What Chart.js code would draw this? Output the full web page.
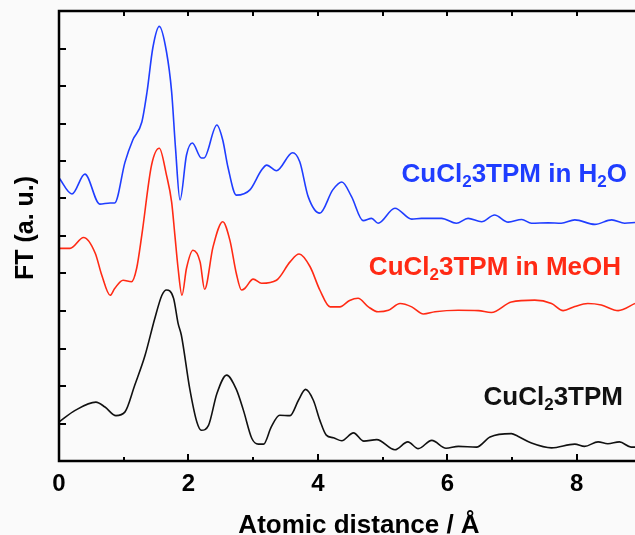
<!DOCTYPE html>
<html lang="en">
<head>
  <meta charset="UTF-8" />
  <title>FT CuCl2 3TPM</title>
  <script src="https://cdn.jsdelivr.net/npm/chart.js"></script>
  <style>
    html, body { margin: 0; padding: 0; background: #fafafa; overflow: hidden; }
    #wrap { width: 635px; height: 535px; }
  </style>
</head>
<body>
  <div id="wrap"><canvas id="grafico" width="635" height="535"></canvas></div>

  <script>
    // distancia (Å) e intensidade (u.a.) de cada curva
    const h2oR = [0, 0.20, 0.40, 0.63, 0.79, 0.86, 1.02, 1.14, 1.28, 1.36, 1.45, 1.55, 1.66, 1.74, 1.80, 1.87,
      1.97, 2.06, 2.20, 2.24, 2.44, 2.53, 2.61, 2.74, 2.95, 3.13, 3.21, 3.36, 3.61, 3.72, 3.85, 4.03,
      4.23, 4.37, 4.52, 4.70, 4.83, 4.93, 5.19, 5.45, 5.60, 5.91, 6.14, 6.32, 6.53, 6.73, 6.94, 7.15,
      7.30, 7.56, 7.76, 7.97, 8.28, 8.54, 8.74, 8.90];
    const h2oFT = [7.55, 7.12, 7.65, 6.85, 6.88, 6.88, 7.97, 8.56, 9.04, 9.84, 11.02, 11.59, 10.92, 9.85, 8.35, 6.96,
      8.16, 8.48, 8.08, 8.08, 8.96, 8.56, 7.84, 7.09, 7.23, 7.76, 7.89, 7.74, 8.22, 7.98, 7.05, 6.61,
      7.23, 7.44, 7.05, 6.41, 6.47, 6.34, 6.74, 6.45, 6.47, 6.47, 6.34, 6.47, 6.38, 6.56, 6.37, 6.44,
      6.34, 6.35, 6.34, 6.43, 6.31, 6.43, 6.34, 6.36];

    const meohR = [0, 0.17, 0.38, 0.56, 0.66, 0.79, 0.86, 0.99, 1.12, 1.20, 1.28, 1.43, 1.55, 1.66, 1.74, 1.79,
      1.84, 1.90, 1.97, 2.07, 2.18, 2.25, 2.38, 2.53, 2.64, 2.74, 2.82, 2.87, 3.00, 3.13, 3.36, 3.57,
      3.71, 3.88, 4.03, 4.19, 4.34, 4.49, 4.62, 4.78, 4.93, 5.09, 5.27, 5.45, 5.63, 5.81, 6.17, 6.48,
      6.68, 6.99, 7.35, 7.61, 7.79, 7.97, 8.17, 8.38, 8.64, 8.90];
    const meohFT = [5.67, 5.67, 5.96, 5.54, 4.96, 4.42, 4.60, 4.82, 4.78, 5.14, 6.03, 7.89, 8.34, 7.63, 6.91, 6.03,
      5.14, 4.42, 5.14, 5.62, 5.31, 4.58, 5.71, 6.38, 5.89, 5.00, 4.56, 4.60, 4.85, 4.74, 4.82, 5.31,
      5.52, 5.18, 4.56, 4.11, 4.11, 4.28, 4.34, 4.11, 3.98, 4.02, 4.20, 4.11, 3.92, 3.98, 4.02, 4.01,
      3.96, 4.24, 4.29, 4.20, 4.01, 4.12, 4.20, 4.16, 4.01, 4.20];

    const solidoR = [0, 0.25, 0.57, 0.71, 0.88, 1.02, 1.17, 1.33, 1.48, 1.59, 1.66, 1.77, 1.84, 1.89, 2.02, 2.13,
      2.20, 2.31, 2.44, 2.59, 2.74, 2.85, 2.98, 3.08, 3.16, 3.28, 3.41, 3.57, 3.70, 3.81, 3.93, 4.03,
      4.13, 4.24, 4.37, 4.55, 4.71, 4.91, 5.19, 5.39, 5.55, 5.76, 5.98, 6.17, 6.45, 6.66, 6.99, 7.09,
      7.30, 7.61, 7.97, 8.12, 8.33, 8.48, 8.66, 8.84, 8.90];
    const solidoFT = [1.04, 1.35, 1.57, 1.44, 1.21, 1.31, 2.02, 2.82, 3.80, 4.42, 4.56, 4.34, 3.67, 3.36, 1.93, 1.04,
      0.82, 0.95, 1.80, 2.29, 1.91, 1.35, 0.60, 0.45, 0.45, 0.91, 1.22, 1.21, 1.62, 1.91, 1.62, 1.09,
      0.69, 0.62, 0.54, 0.75, 0.53, 0.57, 0.30, 0.51, 0.33, 0.55, 0.34, 0.39, 0.37, 0.64, 0.73, 0.66,
      0.48, 0.35, 0.45, 0.39, 0.51, 0.46, 0.51, 0.37, 0.37];

    const xTickLabels = [0, 2, 4, 6, 8];

    const azul = '#1f3dff';
    const vermelho = '#ff2a14';
    const preto = '#111111';
    const fonte = '"Liberation Sans", Arial, sans-serif';

    const pares = (xs, ys) => xs.map((x, i) => ({ x: x, y: ys[i] }));

    // rótulos das curvas: [texto, subscrito?]
    const rotulos = [
      { partes: [['CuCl', 0], ['2', 1], ['3TPM in H', 0], ['2', 1], ['O', 0]], cor: azul, direita: 627, base: 182 },
      { partes: [['CuCl', 0], ['2', 1], ['3TPM in MeOH', 0]], cor: vermelho, direita: 621, base: 275 },
      { partes: [['CuCl', 0], ['2', 1], ['3TPM', 0]], cor: preto, direita: 623, base: 405 }
    ];

    const moldura = {
      id: 'moldura',
      afterDraw(chart) {
        const ctx = chart.ctx;
        const a = chart.chartArea;
        const sx = chart.scales.x, sy = chart.scales.y;
        ctx.save();
        ctx.strokeStyle = '#000';
        ctx.lineWidth = 2.5;
        ctx.beginPath();
        ctx.moveTo(a.right + 2, a.top);
        ctx.lineTo(a.left, a.top);
        ctx.lineTo(a.left, a.bottom);
        ctx.lineTo(a.right + 2, a.bottom);
        ctx.stroke();

        ctx.lineWidth = 2;
        ctx.beginPath();
        for (let v = 1; v < 12; v++) {
          const y = Math.round(sy.getPixelForValue(v));
          ctx.moveTo(a.left, y); ctx.lineTo(a.left + 7, y);
        }
        for (let v = 1; v <= 8; v++) {
          const x = Math.round(sx.getPixelForValue(v));
          ctx.moveTo(x, a.top); ctx.lineTo(x, a.top + 5);
          const len = v % 2 === 0 ? 7 : 4;
          ctx.moveTo(x, a.bottom); ctx.lineTo(x, a.bottom - len);
        }
        ctx.stroke();

        ctx.fillStyle = '#000';
        ctx.font = 'bold 24px ' + fonte;
        ctx.textAlign = 'center';
        ctx.textBaseline = 'alphabetic';
        xTickLabels.forEach(v => ctx.fillText(String(v), sx.getPixelForValue(v), a.bottom + 30));

        ctx.font = 'bold 26px ' + fonte;
        ctx.fillText('Atomic distance / Å', 359, 533);

        ctx.save();
        ctx.translate(33, 228);
        ctx.rotate(-Math.PI / 2);
        ctx.font = 'bold 25px ' + fonte;
        ctx.fillText('FT (a. u.)', 0, 0);
        ctx.restore();

        ctx.textAlign = 'left';
        rotulos.forEach(r => {
          const larg = r.partes.map(([t, sub]) => {
            ctx.font = 'bold ' + (sub ? 17 : 26) + 'px ' + fonte;
            return ctx.measureText(t).width;
          });
          let x = r.direita - larg.reduce((s, w) => s + w, 0);
          ctx.fillStyle = r.cor;
          r.partes.forEach(([t, sub], i) => {
            ctx.font = 'bold ' + (sub ? 17 : 26) + 'px ' + fonte;
            ctx.fillText(t, x, r.base + (sub ? 5 : 0));
            x += larg[i];
          });
        });
        ctx.restore();
      }
    };

    const serie = (dados, cor) => ({
      data: dados,
      borderColor: cor,
      borderWidth: 1.6,
      pointRadius: 0,
      fill: false,
      cubicInterpolationMode: 'monotone'
    });

    new Chart(document.getElementById('grafico'), {
      type: 'line',
      data: {
        datasets: [
          serie(pares(h2oR, h2oFT), azul),
          serie(pares(meohR, meohFT), vermelho),
          serie(pares(solidoR, solidoFT), preto)
        ]
      },
      options: {
        responsive: false,
        animation: false,
        layout: { padding: { left: 59, top: 11, right: 0, bottom: 74 } },
        plugins: { legend: { display: false }, tooltip: { enabled: false } },
        scales: {
          x: { type: 'linear', min: 0, max: 8.9, display: false },
          y: { type: 'linear', min: 0, max: 12, display: false }
        }
      },
      plugins: [moldura]
    });
  </script>
</body>
</html>
